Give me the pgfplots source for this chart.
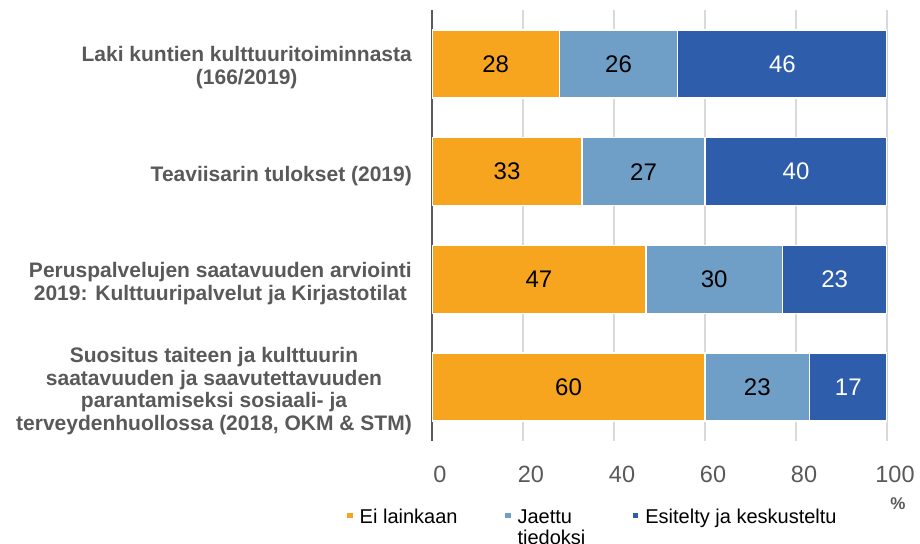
\documentclass[border=0pt]{standalone}
\usepackage{pgfplots}
\pgfplotsset{compat=1.18}
\usepackage{pgfplotstable}
\usepackage{fontspec}
\setmainfont{Liberation Sans}
\definecolor{cOr}{HTML}{F7A51E}
\definecolor{cLb}{HTML}{6F9FC6}
\definecolor{cDb}{HTML}{2E5DAC}
\definecolor{txt}{HTML}{595959}
\definecolor{grd}{HTML}{D9D9D9}
\pgfplotstableread{
y a b c
3 28 26 46
2 33 27 40
1 47 30 23
0 60 23 17
}\data
\begin{document}
\begin{tikzpicture}
\useasboundingbox (0,0) rectangle (920bp,544bp);
\begin{axis}[
  at={(432bp,103bp)}, anchor=south west,
  scale only axis, width=455bp, height=431bp,
  xbar stacked, bar width=68bp,
  xmin=0, xmax=100, ymin=-0.5, ymax=3.5,
  separate axis lines,
  axis x line*=bottom, axis y line*=left,
  x axis line style={draw=none},
  y axis line style={draw=txt, line width=2bp, -},
  major tick length=0pt,
  xtick={0,20,...,100},
  ytick={0,1,2,3},
  yticklabels={{Suositus taiteen ja kulttuurin\\saatavuuden ja saavutettavuuden\\parantamiseksi sosiaali- ja\\terveydenhuollossa (2018, OKM \& STM)},
    {Peruspalvelujen saatavuuden arviointi\\2019: Kulttuuripalvelut ja Kirjastotilat},
    {Teaviisarin tulokset (2019)},
    {Laki kuntien kulttuuritoiminnasta\\(166/2019)}},
  yticklabel style={align=center, anchor=east, inner sep=0pt, xshift=-20bp, yshift=-4bp, font=\fontsize{21bp}{22.8bp}\selectfont\bfseries, text=txt},
  xticklabel style={font=\fontsize{23.5bp}{26bp}\selectfont, text=txt, yshift=-22bp, xshift=8bp},
  /pgf/number format/assume math mode=true,
  xmajorgrids, grid style={grd, line width=1.2bp},
  xlabel={\%},
  xlabel style={at={(rel axis cs:1,0)}, anchor=center, xshift=11bp, yshift=-63bp, font=\fontsize{17bp}{20bp}\selectfont\bfseries, text=txt},
  legend cell align=left,
  legend style={draw=none, fill=none, at={(rel axis cs:-0.19,-0.153)}, anchor=north west,
    legend columns=3, font=\fontsize{20bp}{23bp}\selectfont, text=black,
    nodes={inner sep=0pt},
    cells={anchor=base west},
    /tikz/every odd column/.append style={column sep=5.5bp},
    /tikz/every even column/.append style={column sep=46bp},
    row sep=0pt, inner sep=0pt},
  legend image code/.code={\fill[#1] (0,4bp) rectangle (7bp,11bp);},
]
\addplot[fill=cOr, draw=white, line width=1.5bp] table[x=a, y=y] {\data};
\addlegendentry{Ei lainkaan}
\addplot[fill=cLb, draw=white, line width=1.5bp] table[x=b, y=y] {\data};
\addlegendentry{\begin{tabular}[t]{@{}l@{}}Jaettu\\[-2bp]tiedoksi\end{tabular}}
\addplot[fill=cDb, draw=white, line width=1.5bp] table[x=c, y=y] {\data};
\addlegendentry{Esitelty ja keskusteltu}
\end{axis}
\begin{axis}[
  at={(432bp,103bp)}, anchor=south west,
  scale only axis, width=455bp, height=431bp,
  xmin=0, xmax=100, ymin=-0.5, ymax=3.5,
  hide axis, clip=false,
  nodes near coords, point meta=explicit symbolic,
  every node near coord/.append style={anchor=center, font=\fontsize{24bp}{26bp}\selectfont},
]
\addplot[only marks, mark=none, nodes near coords style={text=black}] table[x expr=\thisrow{a}/2, y=y, meta=a] {\data};
\addplot[only marks, mark=none, nodes near coords style={text=black}] table[x expr=\thisrow{a}+\thisrow{b}/2, y=y, meta=b] {\data};
\addplot[only marks, mark=none, nodes near coords style={text=white}] table[x expr=\thisrow{a}+\thisrow{b}+\thisrow{c}/2, y=y, meta=c] {\data};
\end{axis}
\end{tikzpicture}
\end{document}
